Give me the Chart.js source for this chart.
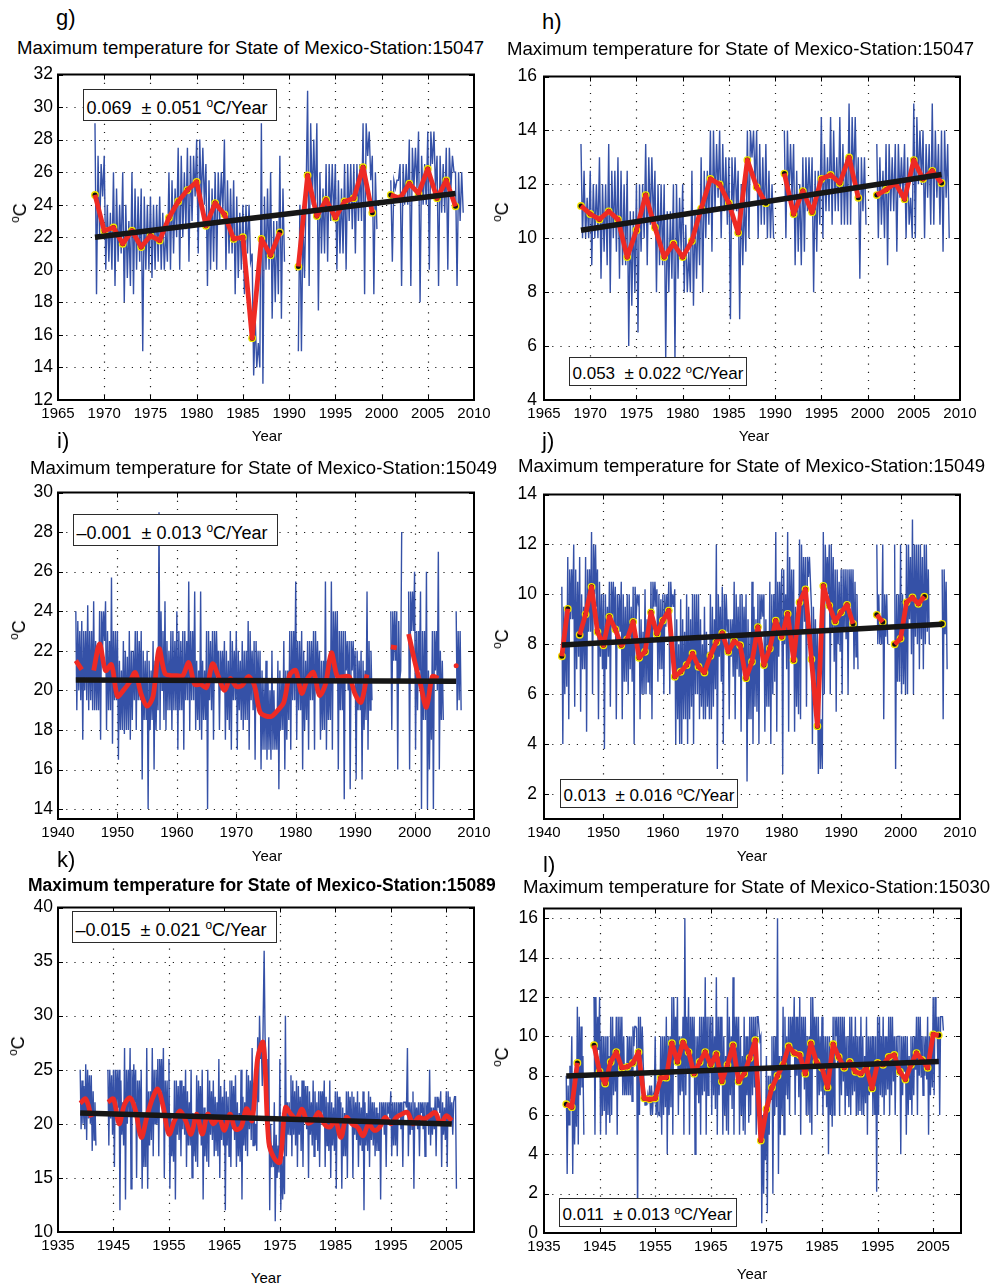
<!DOCTYPE html>
<html>
<head>
<meta charset="utf-8">
<script src="https://cdn.jsdelivr.net/npm/chart.js@4.4.1/dist/chart.umd.min.js"></script>
<style>
  html, body { margin: 0; padding: 0; background: #fff; }
  #fig { position: relative; width: 996px; height: 1285px; overflow: hidden;
         font-family: "Liberation Sans", Arial, Helvetica, sans-serif; color: #000; }
  #fig canvas { position: absolute; }
  .t { position: absolute; white-space: nowrap; line-height: 1; }
  .note { position: absolute; background: #fff; border: 1.6px solid #2b2b2b; box-sizing: border-box; }
  .note .t { position: absolute; }
  .ylab { position: absolute; white-space: nowrap; line-height: 1;
          transform: translate(-50%, -50%) rotate(-90deg); }
  sup { font-size: 66%; vertical-align: 0.55em; line-height: 0; }
</style>
</head>
<body>
<div id="fig"></div>
<script>
const N = null;

// ---------- Station 15047 (panel g): maximum temperature, 6 samples per year from 1969 ----------
const gFirstYear = 1969;
const gMonthly = [
/*1969*/ 29,18.5,27,22,26.5,24.5,
/*1970*/ 27,20,24,20.5,23.5,20,
/*1971*/ 26,19,25,20.5,24,21,
/*1972*/ 26,18,24,19.5,23,19,
/*1973*/ 26,18.5,25,20,24.5,20.5,
/*1974*/ 25,15,24.5,20,24,20,
/*1975*/ 24.5,19.5,24,20,24,20.5,
/*1976*/ 24.5,20,23.5,20,22.5,20.5,
/*1977*/ 26,20,25.5,21,25,22,
/*1978*/ 27.5,20,27,22,26,22.5,
/*1979*/ 27.5,20.5,27,23,27,24.5,
/*1980*/ 28,21,28,24,27.5,24,
/*1981*/ 26.5,19,25.5,20,25,20.5,
/*1982*/ 26,20,26,23,26,23.5,
/*1983*/ 28,20,25.5,21,25,21,
/*1984*/ 25.5,18.5,24.5,19.5,23.5,20,
/*1985*/ 24,18.5,24,21,24,20.5,
/*1986*/ 21,13.5,17,14,15.5,14,
/*1987*/ 29,13,24.5,20,25,20,
/*1988*/ 26,17,23,18,23,18.5,
/*1989*/ 27,17,25,20.5,N,N,
/*1990*/ N,N,N,N,N,N,
/*1991*/ 15,24,15,23,19.5,24.5,
/*1992*/ 31,19,29,24,28,24,
/*1993*/ 29,17.5,26,21,25,21,
/*1994*/ 26.5,20.5,26.5,23,26.5,23,
/*1995*/ 26.5,20,25.5,21,25,21,
/*1996*/ 26.5,20,26.5,23,26.5,22.5,
/*1997*/ 26.5,21,26.5,23,26.5,23,
/*1998*/ 29,18.5,29,27,28.5,25.5,
/*1999*/ 27,18.5,26,22.5,N,N,
/*2000*/ N,N,N,N,N,N,
/*2001*/ 25.5,20.5,25.5,25,25.5,25.5,
/*2002*/ 26.5,19,26.5,24,26.5,24,
/*2003*/ 28,19,27.5,25,27.5,25,
/*2004*/ 28.5,18,27,24,26.5,24,
/*2005*/ 28.5,20,28.5,26.5,28.5,25,
/*2006*/ 27,19,27,23.5,26.5,23.5,
/*2007*/ 27.5,20,27.5,25,27,26,
/*2008*/ 26,19,26,23,26,23.5
];
const gAnnual = [24.6,22.4,22.6,21.6,22.4,21.4,22.1,21.8,23.2,24.2,24.9,25.4,22.7,24.1,23.4,21.9,22.0,15.8,21.9,20.9,
                 22.3,N,20.2,25.8,23.3,24.3,23.2,24.2,24.4,26.3,23.5,N,24.6,24.4,25.3,24.7,26.2,24.4,25.5,23.9];
const gTrend = { from: 1969, to: 2008, start: 22.0, slope: 0.069, err: 0.051 };
const gXTicks = [1965,1970,1975,1980,1985,1990,1995,2000,2005,2010];
const gYTicks = [12,14,16,18,20,22,24,26,28,30,32];

// ---------- Station 15047 (panel h) ----------
const hFirstYear = 1969;
const hMonthly = [
/*1969*/ 13.5,10,12.5,10,11.5,10,
/*1970*/ 12.5,9,12,10,12,10,
/*1971*/ 13,8.5,12,9.5,12,9,
/*1972*/ 13.5,8,12.5,10,12.5,9.5,
/*1973*/ 13,8.5,12.5,9,12,9,
/*1974*/ 12.5,6,11,7.5,11,8,
/*1975*/ 12,6.5,12,9.5,12,10,
/*1976*/ 13.5,9,13,10.5,13,10.5,
/*1977*/ 12.5,8,12,9,12,9,
/*1978*/ 12,5.5,11,8,11,8.5,
/*1979*/ 12,5.5,12,8.5,11.5,9.5,
/*1980*/ 12,8,10.5,8,9.5,8,
/*1981*/ 12.5,7.5,11,8.5,11,9,
/*1982*/ 13,8,12.5,10,12.5,10.5,
/*1983*/ 14,9.5,14,11,13.5,11.5,
/*1984*/ 14,10,13.5,11,13,10.5,
/*1985*/ 13,7,13,11,13,11,
/*1986*/ 12.5,7,12,9,11.5,9.5,
/*1987*/ 14,10,14,13,14,12,
/*1988*/ 14,10,13.5,10.5,13,10.5,
/*1989*/ 13.5,10,12.5,10,12,10,
/*1990*/ N,N,N,N,N,N,
/*1991*/ 14,10,14,11.5,13.5,11.5,
/*1992*/ 13.5,9,12.5,9.5,12,9,
/*1993*/ 13,9.5,13,11,13,11,
/*1994*/ 13,8,12.5,9.5,12.5,10.5,
/*1995*/ 14.5,10,13.5,11,13,11,
/*1996*/ 14.5,10.5,14,11,13,11,
/*1997*/ 14.5,10.5,13.5,10.5,13,10.5,
/*1998*/ 15,10.5,14.5,12,14.5,11.5,
/*1999*/ 13,8.5,13,11,13,10.5,
/*2000*/ N,N,N,N,N,N,
/*2001*/ 13.5,10,13,10.5,12.5,10,
/*2002*/ 13.5,9,13.5,11,13,11,
/*2003*/ 13.5,9.5,13.5,11.5,13,11.5,
/*2004*/ 13.5,10,13,10.5,11.5,10,
/*2005*/ 15,10,14.5,12,14,12,
/*2006*/ 14,10,13.5,11.5,13.5,10.5,
/*2007*/ 15,10.5,14,11.5,13.5,10.5,
/*2008*/ 14,9.5,14,11.5,13.5,10
];
const hAnnual = [11.2,10.9,10.7,11.0,10.7,9.3,10.3,11.6,10.4,9.3,9.8,9.3,9.9,11.1,12.2,12.0,11.3,10.2,12.9,11.9,
                 11.3,N,12.4,10.9,11.75,10.96,12.2,12.35,12.05,13.0,11.5,N,11.6,11.8,12.05,11.45,12.9,12.2,12.5,12.05];
const hTrend = { from: 1969, to: 2008, start: 10.3, slope: 0.053, err: 0.022 };
const hXTicks = [1965,1970,1975,1980,1985,1990,1995,2000,2005,2010];
const hYTicks = [4,6,8,10,12,14,16];

// ---------- Station 15049 (panel i) ----------
const iFirstYear = 1943;
const iMonthly = [
/*1943*/ 24,19,23.5,20,23,19.5,
/*1944*/ 23.5,17.5,23,20,23,19.5,
/*1945*/ 24.3,19,23,19.5,23,19,
/*1946*/ 24.5,19,22.5,19,22,19,
/*1947*/ 24,17.5,24,22,24,22.5,
/*1948*/ 24.5,18,23,19,22.5,19,
/*1949*/ 25.7,17.3,23,19.5,23,19.5,
/*1950*/ 23,16.5,21.5,18,21,18,
/*1951*/ 22.5,17.8,22,18,21.7,18,
/*1952*/ 23,17.5,22,18.5,22,19.5,
/*1953*/ 23,18,23,19.5,22.5,19.5,
/*1954*/ 23,15.5,22,18.5,21.5,18.5,
/*1955*/ 22,14,21.5,18,21,18.5,
/*1956*/ 22.5,16,21.5,18,21,19,
/*1957*/ 29,18,24,20,23,18.5,
/*1958*/ 24.5,18,22.5,19,22,19,
/*1959*/ 23,18,23,19,22.5,19,
/*1960*/ 24,17,23,19,22.5,19,
/*1961*/ 23,17,23,19.5,22.5,19.5,
/*1962*/ 25.5,18,23,19.5,23,19.5,
/*1963*/ 25,18,21.5,18.5,21,18,
/*1964*/ 25,17.5,21.5,18.5,21,18.5,
/*1965*/ 23,14,23,19.5,22.5,19,
/*1966*/ 23,17.5,23,20.5,23,21,
/*1967*/ 22,18,22,20,22,20,
/*1968*/ 22.5,17.5,22,18.5,21.5,18,
/*1969*/ 23,17,22.5,19.5,22,19.5,
/*1970*/ 23,17,22,19,21.5,18.5,
/*1971*/ 22.5,18,22,18.5,22,18.5,
/*1972*/ 23.5,17,23,19.5,22,19,
/*1973*/ 22.5,16.5,22.5,19.5,22,19,
/*1974*/ 22,16,21,17,20.5,17,
/*1975*/ 21.5,16.5,20.5,17,20,16.5,
/*1976*/ 22,17,20,17,19,17,
/*1977*/ 21.5,15,21,18,20.5,18,
/*1978*/ 22.5,16,21,17.5,21,18.5,
/*1979*/ 23,17,23,19.5,23,19.5,
/*1980*/ 25.5,17.5,22.5,19,22.5,19,
/*1981*/ 23,16,22,18,21.5,18.5,
/*1982*/ 22.5,17,22.5,19.5,22.5,19.5,
/*1983*/ 23,17,23,20,22.5,20,
/*1984*/ 22,17.5,21.5,18,21.5,18,
/*1985*/ 25.5,17,21.5,18.5,21,18.5,
/*1986*/ 25.5,17,24,20.5,24,20.5,
/*1987*/ 24,16,23,19,23,19,
/*1988*/ 23,14.5,23,21,22.5,20,
/*1989*/ 22.5,15,22.5,21,22.5,20.5,
/*1990*/ 22,15.5,22,19,21.5,19,
/*1991*/ 22,15.5,21.5,18,21,18.5,
/*1992*/ 25,17,22.5,19,22,19.5,
/*1993*/ N,N,N,N,N,N,
/*1994*/ N,N,N,N,N,N,
/*1995*/ N,N,N,N,N,N,
/*1996*/ 24,18,24,21.5,24,21.5,
/*1997*/ 24,16,23.5,20.5,21,28,
/*1998*/ N,N,N,N,N,N,
/*1999*/ 25,16,25,23,25,23,
/*2000*/ 26,17,23,19,23,21,
/*2001*/ 25,14,23,18.5,23,18.5,
/*2002*/ 26,14,21,16,20.5,17.5,
/*2003*/ 23,14,23,21,23,20,
/*2004*/ 27,16,22,18.5,21.5,18.5,
/*2005*/ N,N,N,N,N,N,
/*2006*/ N,N,N,N,N,N,
/*2007*/ 24,19,23,19.5,23,19
];
const iAnnual = [21.5,21.05,N,21.0,22.35,21.0,21.3,19.7,20.0,20.4,20.9,19.8,19.2,19.7,22.1,20.85,20.75,20.75,20.75,21.4,
                 20.3,20.3,20.15,21.35,20.7,20.0,20.6,20.2,20.25,20.7,20.3,18.9,18.7,18.7,19.0,19.4,20.8,21.0,19.85,20.6,
                 20.9,19.75,20.3,21.9,20.7,20.7,20.7,19.8,19.4,20.8,N,N,N,22.2,22.15,N,22.85,21.5,20.3,19.15,
                 20.7,20.6,N,N,21.25];
const iTrend = { from: 1943, to: 2007, start: 20.53, slope: -0.001, err: 0.013 };
const iXTicks = [1940,1950,1960,1970,1980,1990,2000,2010];
const iYTicks = [14,16,18,20,22,24,26,28,30];

// ---------- Station 15049 (panel j) ----------
const jFirstYear = 1943;
const jMonthly = [
/*1943*/ 10.3,4,9.5,6,9,6.3,
/*1944*/ 11.5,5,11,9,11,9,
/*1945*/ 12,5.5,11,7,10.5,7.5,
/*1946*/ 11.5,5.3,10,7,9.5,7,
/*1947*/ 11.5,4.5,11,8.5,11,8.5,
/*1948*/ 12.5,6,12,10,12,9.5,
/*1949*/ 11,5,10.5,7.5,10,7,
/*1950*/ 10,3.8,10,7,9.5,7.5,
/*1951*/ 10.5,5.5,10.5,9,10.5,8.5,
/*1952*/ 10.3,5,10,8,10,8.5,
/*1953*/ 10.5,5,10,6.5,9.5,6.5,
/*1954*/ 10,6,10,7,9.5,6.5,
/*1955*/ 10.3,4,10.3,9,10,9.7,
/*1956*/ 10,5,9,6,8.5,6,
/*1957*/ 10.2,6,9,6.5,8.5,6,
/*1958*/ 10.5,5,10.5,9.5,10.5,9.5,
/*1959*/ 10.2,6.5,10,7,9.8,7,
/*1960*/ 10,6,10,8.7,10,9,
/*1961*/ 10.5,6,10.5,9.5,10,9.5,
/*1962*/ 10.2,4,9,5,8,4,
/*1963*/ 9.8,4,9,5,8.5,5,
/*1964*/ 10,4,9.5,5,9,5.5,
/*1965*/ 10,4,10,6,10,6,
/*1966*/ 10,5,9,5.5,8,5,
/*1967*/ 9.5,5,8.5,5.5,7.7,5,
/*1968*/ 10,5,9.5,5.5,9,6.2,
/*1969*/ 12,3,10,7.5,9.5,6.5,
/*1970*/ 10.3,4,10,8,10,8.5,
/*1971*/ 9,5,9,7.5,9,6.7,
/*1972*/ 10.5,5,10,7,9.5,6.7,
/*1973*/ 10,4.5,10,7,9.5,6.8,
/*1974*/ 10,2.5,9,5,8.3,5,
/*1975*/ 10.5,4,9.5,5.5,9,5.3,
/*1976*/ 10,4,10,9,10,9.1,
/*1977*/ 10,4.5,9,5.5,8.5,5.5,
/*1978*/ 10.5,4,10,6,10,6.5,
/*1979*/ 12.5,4.5,10.5,7.5,10.5,8.2,
/*1980*/ 11,2.8,11,8,10,7,
/*1981*/ 12.5,4.5,11.5,8,11,7.8,
/*1982*/ 11,4.5,9.5,5.5,8.5,5.2,
/*1983*/ 12.2,5,12,8.5,11.5,8.9,
/*1984*/ 11.5,5.5,11.5,10.7,11.5,10.5,
/*1985*/ 9.5,4,9.5,6.5,9,5.9,
/*1986*/ 8.5,2.8,6,3,5,3,
/*1987*/ 12.5,6,12,10,11.5,10,
/*1988*/ 12,6,12,8.5,11.5,7.3,
/*1989*/ 11,5.3,11,8,10.5,7.7,
/*1990*/ 11,6,11,8.5,11,8.2,
/*1991*/ 11,6,11,9.5,11,9,
/*1992*/ 11,7,10.5,7.5,10,7,
/*1993*/ N,N,N,N,N,N,
/*1994*/ N,N,N,N,N,N,
/*1995*/ N,N,N,N,N,N,
/*1996*/ 12,8,10,8,9.1,8,
/*1997*/ 12,5,10,8.3,10,8,
/*1998*/ N,N,N,N,N,N,
/*1999*/ 12,3,10,6.5,10,6.5,
/*2000*/ 12,6,10,6.4,9,6,
/*2001*/ 12,6,12,9,11.5,7.6,
/*2002*/ 13,6,12,8.3,12,8,
/*2003*/ 12,7,12,8.2,11.5,7,
/*2004*/ 12,8,12,8.5,11,8,
/*2005*/ N,N,N,N,N,N,
/*2006*/ N,N,N,N,N,N,
/*2007*/ 11,5,11,8.4,10.5,7
];
const jAnnual = [7.52,9.42,N,8.38,9.2,10.3,8.5,7.96,9.1,8.6,7.96,8.2,8.9,7.46,7.7,9.28,8.42,8.95,9.35,6.7,
                 6.9,7.17,7.63,7.1,6.87,7.54,8.09,8.45,7.7,8.12,7.96,6.64,7.3,8.69,7.17,7.83,8.95,8.29,9.22,7.36,
                 9.68,10.2,7.4,4.72,10.34,9.55,8.91,9.28,9.58,8.82,N,N,N,9.18,8.89,N,8.0,8.23,9.68,9.88,
                 9.62,9.91,N,N,8.82];
const jTrend = { from: 1943, to: 2007, start: 7.97, slope: 0.013, err: 0.016 };
const jXTicks = [1940,1950,1960,1970,1980,1990,2000,2010];
const jYTicks = [2,4,6,8,10,12,14];

// ---------- Station 15089 (panel k) ----------
const kFirstYear = 1939;
const kMonthly = [
/*1939*/ 25,19.5,24,20,23.5,19.5,
/*1940*/ 25.5,18.5,25,20.5,24.5,20,
/*1941*/ 24.5,17.5,23,18.5,22,18,
/*1942*/ N,N,N,N,N,N,
/*1943*/ N,N,N,N,N,N,
/*1944*/ 25,18,25,20.5,24.5,19,
/*1945*/ 25,16,25,21.5,25,21.5,
/*1946*/ 25,12,24,19,22,18,
/*1947*/ 27,13,25,20,25,21,
/*1948*/ 27,14,25,21,25.5,22,
/*1949*/ 25,15,24,20,24,19,
/*1950*/ 25,14,21,16,20.5,16,
/*1951*/ 27,14,23,18,23,18.5,
/*1952*/ 27,17,25,20,25,20,
/*1953*/ 26,17,26,23,26,21,
/*1954*/ 27,15,24,19.5,24,19.5,
/*1955*/ 26,14,21,17,20,16.5,
/*1956*/ 24,13,24,19,23.5,18.5,
/*1957*/ 24,17,24,19.5,23.5,19,
/*1958*/ 25,16,23,18,22,18,
/*1959*/ 25,15,21,17,20,16.5,
/*1960*/ 24.5,16,24,19.5,23.5,18,
/*1961*/ 25,13,21.5,17,21,16.5,
/*1962*/ 25,16,24,19,23,18.5,
/*1963*/ 24,17,22.5,17.5,22,17,
/*1964*/ 26,15,23.5,18.5,22.5,18,
/*1965*/ 24,12,23,18,22.5,17,
/*1966*/ 24,16,24,19.5,23.5,18.5,
/*1967*/ 24.5,16,22,17,21,16.5,
/*1968*/ 25,13,22.5,18,22,17.5,
/*1969*/ 25,17,24.5,19.5,24,18.5,
/*1970*/ 27,18,21.5,18,20,17.5,
/*1971*/ 28,22,30,26,27,23.5,
/*1972*/ 30,36,28,26,24,21,
/*1973*/ 28,12,20,16,18,16,
/*1974*/ 22,11,19,15,18,15.5,
/*1975*/ 26,12,17,13,17,13.5,
/*1976*/ 30,17,22,19,22,19,
/*1977*/ 24.5,17,24,19,23,18,
/*1978*/ 24,16,23.5,19,22.5,17.5,
/*1979*/ 24,16,24,21,23.5,19.5,
/*1980*/ 23.5,15,23,19,22,18,
/*1981*/ 24,17,23,18.5,22,17.5,
/*1982*/ 23,16,23,21,23,20.5,
/*1983*/ 24,16,22.5,18,22,17.5,
/*1984*/ 24,15,22,18,21.5,17.5,
/*1985*/ 23,14,23,20.5,22.5,19,
/*1986*/ 22,14,21.5,17,21,17,
/*1987*/ 23,15,23,20,22.5,20,
/*1988*/ 23,15,22.5,19,22,18.5,
/*1989*/ 23,16,22,18,21.5,17.5,
/*1990*/ 23,12,22,18,21,17.5,
/*1991*/ 23,16,22.5,18.5,22,18,
/*1992*/ 22,17,21.5,17.5,21,17.5,
/*1993*/ 22,13,22,20,22,19,
/*1994*/ 22,16,22,21,22,20.5,
/*1995*/ 23,17,22,18,22,18,
/*1996*/ 22,17,22,21,22,19.5,
/*1997*/ 22,16,22,22,22,21.5,
/*1998*/ 27,17,22,19,22,19.5,
/*1999*/ 23,14,22,20,21.5,19.5,
/*2000*/ 22,17,22,21,22,19.5,
/*2001*/ 22,17,22,20.5,22,19,
/*2002*/ 25,18,21.5,19,21.5,19.5,
/*2003*/ 22.5,17,22.5,21.5,22,21,
/*2004*/ 23,16,22,19,21.5,18.5,
/*2005*/ 23,16,23,20,22.5,20,
/*2006*/ 22,19,22,22.5,22.5,14
];
const kAnnual = [21.9,22.3,20.6,N,N,22.0,22.3,20.0,21.8,22.4,21.2,18.75,20.6,22.3,23.2,21.5,19.05,20.3,21.2,20.3,
                 19.05,20.9,19.05,20.9,20.0,20.6,19.4,20.9,19.5,19.7,21.4,20.3,26.1,27.5,18.3,16.8,16.45,21.5,20.9,20.45,
                 21.35,20.1,20.3,21.05,20.0,19.7,20.3,18.75,20.6,20.0,19.7,18.9,20.0,19.4,19.7,20.6,20.0,20.6,20.9,21.05,
                 20.0,20.6,20.45,20.75,21.05,20.0,20.75,20.3];
const kTrend = { from: 1939, to: 2006, start: 21.0, slope: -0.015, err: 0.021 };
const kXTicks = [1935,1945,1955,1965,1975,1985,1995,2005];
const kYTicks = [10,15,20,25,30,35,40];

// ---------- Station 15030 (panel l) ----------
const lFirstYear = 1939;
const lMonthly = [
/*1939*/ 8,3,7.5,5.5,8.5,6.8,
/*1940*/ 10,3,8,4.5,7.5,5.4,
/*1941*/ 11.5,4.5,11,7,10.5,7.4,
/*1942*/ 9,5,N,N,N,N,
/*1943*/ N,N,N,N,N,N,
/*1944*/ 12,5,12,8,11,9.3,
/*1945*/ 12,5,10,6,10,6.2,
/*1946*/ 10,5,10,6,9,5.6,
/*1947*/ 11,6,11,7,10,7.2,
/*1948*/ 11,5,11,9,11,8.2,
/*1949*/ 11,7,10,7,8.4,7,
/*1950*/ 10,7,10,7,10,6.7,
/*1951*/ 10.5,9.5,10.5,10.5,10.4,0.5,
/*1952*/ 11,6,11,8,10.5,8.7,
/*1953*/ 7.5,6.5,7,6.5,7,6.6,
/*1954*/ 7.5,6,7.5,6,7,6.8,
/*1955*/ 10,6,7,6,6.1,6,
/*1956*/ 10,5,10,6,10,6.4,
/*1957*/ 11,4,10,6,10,6.4,
/*1958*/ 12,5,12,9,11,8.9,
/*1959*/ 12,6,10,7,10,7.2,
/*1960*/ 11,5,16,7,11,8.2,
/*1961*/ 12,5,11,8,11,8.2,
/*1962*/ 11,4,10,7,10,6.6,
/*1963*/ 11,5,11,7,11,7.2,
/*1964*/ 13,5,11,7,11,8.2,
/*1965*/ 11,6,11,7,10,6.3,
/*1966*/ 13,5,11,7,11,7.6,
/*1967*/ 11,5,10,6,9,5.2,
/*1968*/ 12,5,11,7,10,6.3,
/*1969*/ 13,5,11,9,11,8.3,
/*1970*/ 11,5,10,6,9,5.2,
/*1971*/ 11,5,10,7,10,5.6,
/*1972*/ 11,6,11,7,11,7.4,
/*1973*/ 11,5,11,11,11,9.8,
/*1974*/ 10,0.5,6,2,6,3.7,
/*1975*/ 9,1,8,5,8,6.8,
/*1976*/ 10,2,10,6,10,6.4,
/*1977*/ 16,3,9,5,9,6,
/*1978*/ 11.5,5,11,7,10,6.8,
/*1979*/ 11,6,11,9,11,9,
/*1980*/ 12,6,11,8,11,6.9,
/*1981*/ 12,5,11,8,11,7.3,
/*1982*/ 11,6,10,6,10,5.6,
/*1983*/ 12,5,12,9,11,8.9,
/*1984*/ 11,6,11,7,10,7.2,
/*1985*/ 11,6,10,7,10,6.4,
/*1986*/ 10,4,10,6,9,5.4,
/*1987*/ 11,6,11,10,11,8.6,
/*1988*/ 11,6,11,7,11,7.7,
/*1989*/ 11,6,10,7,10,6.4,
/*1990*/ 11,6,11,7,10,7.2,
/*1991*/ 11,6,10,6,10,6.2,
/*1992*/ 11,6,10,6,9,6.6,
/*1993*/ 11,5,10,7,10,7.4,
/*1994*/ 10,6,10,6,10,2.1,
/*1995*/ 11,6,11,7,10,6.9,
/*1996*/ 11,6,10,7,10,7.3,
/*1997*/ 11,6,11,7,11,7.7,
/*1998*/ 10,6,10,8.3,10,10,
/*1999*/ 10,4,10,7,10,8.2,
/*2000*/ 10,5,10,6,9,6.8,
/*2001*/ 10,6,10,7,10,8.3,
/*2002*/ 11,6,11,8,11,7.9,
/*2003*/ 10,7,10,8,10,7.8,
/*2004*/ 11,5,10,7,10,7.4,
/*2005*/ 12,7,12,10,11,8.6,
/*2006*/ 11,6,11,11,11,10.3
];
const lAnnual = [6.55,6.4,8.65,N,N,9.55,8.2,7.6,8.7,9.2,8.4,8.45,8.65,9.2,6.85,6.8,6.85,7.9,7.9,9.65,
                 8.7,9.7,9.2,8.1,8.7,9.2,8.55,9.1,7.7,8.55,9.55,7.7,8.1,8.9,9.8,4.7,6.3,7.4,8.0,8.55,
                 9.5,9.15,9.05,8.1,9.65,8.7,8.4,7.4,9.6,8.95,8.4,8.7,8.2,8.1,8.4,7.35,8.65,8.55,8.95,9.05,
                 8.2,7.8,8.55,9.15,8.8,8.4,10.1,10.05];
const lTrend = { from: 1939, to: 2006, start: 7.98, slope: 0.011, err: 0.013 };
const lXTicks = [1935,1945,1955,1965,1975,1985,1995,2005];
const lYTicks = [0,2,4,6,8,10,12,14,16];

const stationTitle = 'Maximum temperature for State of Mexico-Station:';

// ---------- page layout (pixel boxes of each plot area and its texts) ----------
const panels = [
  { tag: 'g)', station: '15047', first: gFirstYear, monthly: gMonthly, annual: gAnnual, trend: gTrend,
    xTicks: gXTicks, yTicks: gYTicks, xMin: 1965, xMax: 2010, yMin: 12, yMax: 32, markers: true, smooth: 0,
    box: { L: 58, T: 73, R: 474, B: 400 }, tagAt: [56, 26], titleAt: [17, 55], yLabAt: [20, 213], xLabAt: [267, 441],
    note: { L: 83, T: 89, W: 194, H: 32, size: 18, base: 26 }, yPad: 5 },
  { tag: 'h)', station: '15047', first: hFirstYear, monthly: hMonthly, annual: hAnnual, trend: hTrend,
    xTicks: hXTicks, yTicks: hYTicks, xMin: 1965, xMax: 2010, yMin: 4, yMax: 16, markers: true, smooth: 0,
    box: { L: 544, T: 73, R: 960, B: 400 }, tagAt: [542, 30], titleAt: [507, 56], yLabAt: [502, 212], xLabAt: [754, 441],
    note: { L: 569, T: 357, W: 178, H: 29, size: 17, base: 23 }, yPad: 7 },
  { tag: 'i)', station: '15049', first: iFirstYear, monthly: iMonthly, annual: iAnnual, trend: iTrend,
    xTicks: iXTicks, yTicks: iYTicks, xMin: 1940, xMax: 2010, yMin: 13.5, yMax: 30, markers: false, smooth: 0.3,
    box: { L: 58, T: 491, R: 474, B: 819 }, tagAt: [57, 449], titleAt: [30, 475], yLabAt: [19, 630], xLabAt: [267, 861],
    note: { L: 73, T: 514, W: 205, H: 32, size: 18, base: 26 }, yPad: 5 },
  { tag: 'j)', station: '15049', first: jFirstYear, monthly: jMonthly, annual: jAnnual, trend: jTrend,
    xTicks: jXTicks, yTicks: jYTicks, xMin: 1940, xMax: 2010, yMin: 1, yMax: 14, markers: true, smooth: 0,
    box: { L: 544, T: 491, R: 960, B: 819 }, tagAt: [542, 449], titleAt: [518, 473], yLabAt: [502, 639], xLabAt: [752, 861],
    note: { L: 560, T: 779, W: 178, H: 29, size: 17, base: 23 }, yPad: 7 },
  { tag: 'k)', station: '15089', bold: true, first: kFirstYear, monthly: kMonthly, annual: kAnnual, trend: kTrend,
    xTicks: kXTicks, yTicks: kYTicks, xMin: 1935, xMax: 2010, yMin: 10, yMax: 40, markers: false, smooth: 0.35,
    box: { L: 58, T: 906, R: 474, B: 1232 }, tagAt: [57, 868], titleAt: [28, 892], yLabAt: [18, 1046], xLabAt: [266, 1283],
    note: { L: 72, T: 911, W: 205, H: 32, size: 18, base: 26 }, yPad: 5 },
  { tag: 'l)', station: '15030', first: lFirstYear, monthly: lMonthly, annual: lAnnual, trend: lTrend,
    xTicks: lXTicks, yTicks: lYTicks, xMin: 1935, xMax: 2010, yMin: 0, yMax: 16.5, markers: true, smooth: 0,
    box: { L: 544, T: 906, R: 961, B: 1233 }, tagAt: [543, 873], titleAt: [523, 894], yLabAt: [502, 1057], xLabAt: [752, 1279],
    note: { L: 559, T: 1198, W: 178, H: 29, size: 17, base: 23 }, yPad: 6 }
];

const fig = document.getElementById('fig');
const SANS = '"Liberation Sans", Arial, Helvetica, sans-serif';
Chart.defaults.font.family = SANS;

function fontAvailable(name) {
  const c = document.createElement('canvas').getContext('2d');
  c.font = '40px monospace';
  const a = c.measureText('1965 2010 Year').width;
  c.font = '40px "' + name + '", monospace';
  return c.measureText('1965 2010 Year').width !== a;
}
const narrow = fontAvailable('Liberation Sans Narrow');
const xTickFont = narrow
  ? { family: '"Liberation Sans Narrow", ' + SANS, size: 17.5 }
  : { family: SANS, size: 15 };
const yTickFont = { family: SANS, size: 17.5 };

// text placed by its baseline
function addText(parent, html, left, baseline, size, extra) {
  const d = document.createElement('div');
  d.className = 't';
  d.innerHTML = html;
  d.style.fontSize = size + 'px';
  d.style.left = left + 'px';
  d.style.top = (baseline - 0.8465 * size) + 'px';
  if (extra) Object.assign(d.style, extra);
  parent.appendChild(d);
  return d;
}

function fmtRate(v) {
  const s = Math.abs(v).toFixed(3);
  return v < 0 ? '\u2013' + s : s;
}

// dotted grid under the data, inward ticks and frame on top
const frame = {
  id: 'frame',
  beforeDatasetsDraw(chart) {
    const { ctx, chartArea: a, scales: { x, y } } = chart;
    ctx.save();
    ctx.strokeStyle = '#1e1e1e';
    ctx.lineWidth = 1.2;
    ctx.setLineDash([1.2, 7]);
    ctx.beginPath();
    x.ticks.forEach(t => {
      const px = Math.round(x.getPixelForValue(t.value)) + 0.5;
      if (px > a.left + 3 && px < a.right - 3) { ctx.moveTo(px, a.top); ctx.lineTo(px, a.bottom); }
    });
    y.ticks.forEach(t => {
      const py = Math.round(y.getPixelForValue(t.value)) + 0.5;
      if (py > a.top + 3 && py < a.bottom - 3) { ctx.moveTo(a.left, py); ctx.lineTo(a.right, py); }
    });
    ctx.stroke();
    ctx.restore();
  },
  afterDatasetsDraw(chart) {
    const { ctx, chartArea: a, scales: { x, y } } = chart;
    const len = 5;
    ctx.save();
    ctx.strokeStyle = '#000';
    ctx.lineWidth = 1;
    ctx.beginPath();
    x.ticks.forEach(t => {
      const px = Math.round(x.getPixelForValue(t.value)) + 0.5;
      ctx.moveTo(px, a.bottom); ctx.lineTo(px, a.bottom - len);
      ctx.moveTo(px, a.top); ctx.lineTo(px, a.top + len);
    });
    y.ticks.forEach(t => {
      const py = Math.round(y.getPixelForValue(t.value)) + 0.5;
      ctx.moveTo(a.left, py); ctx.lineTo(a.left + len, py);
      ctx.moveTo(a.right, py); ctx.lineTo(a.right - len, py);
    });
    ctx.stroke();
    ctx.lineWidth = 2;
    ctx.strokeRect(a.left, a.top, a.right - a.left, a.bottom - a.top);
    ctx.restore();
  }
};

function buildPanel(p) {
  const yW = 60, xH = 34, padT = 14, padR = 34;
  const b = p.box;
  const W = (b.R - b.L) + yW + padR;
  const H = (b.B - b.T) + padT + xH;
  const cv = document.createElement('canvas');
  cv.width = W; cv.height = H;
  cv.style.width = W + 'px'; cv.style.height = H + 'px';
  cv.style.left = (b.L - yW) + 'px';
  cv.style.top = (b.T - padT) + 'px';
  fig.appendChild(cv);

  const monthly = p.monthly.map((v, i) => ({ x: p.first + i / 6, y: v }));
  const annual = p.annual.map((v, i) => ({ x: p.first + i, y: v }));
  const tr = p.trend;
  const trend = [
    { x: tr.from, y: tr.start },
    { x: tr.to, y: tr.start + tr.slope * (tr.to - tr.from) }
  ];
  const lonely = i => p.annual[i] != null && p.annual[i - 1] == null && p.annual[i + 1] == null;

  const datasets = [
    { data: trend, borderColor: '#161616', borderWidth: 5.5, pointRadius: 0, order: 1, borderCapStyle: 'butt' },
    { data: annual, borderColor: '#ee2a24', borderWidth: 4.8, tension: p.smooth, spanGaps: false, order: 2,
      borderJoinStyle: 'round', borderCapStyle: 'butt',
      pointRadius: ctx => (!p.markers && lonely(ctx.dataIndex)) ? 2.5 : 0,
      pointBackgroundColor: '#ee2a24', pointBorderWidth: 0 },
    { data: monthly, borderColor: '#3551a7', borderWidth: 1.4, pointRadius: 0, spanGaps: false, order: 4, tension: 0 }
  ];
  if (p.markers) {
    datasets.push({ data: annual, showLine: false, order: 3, pointRadius: 3.2,
      pointBackgroundColor: '#111', pointBorderColor: '#f2e400', pointBorderWidth: 1.4 });
  }

  new Chart(cv, {
    type: 'line',
    data: { datasets },
    options: {
      responsive: false, animation: false, devicePixelRatio: 1, events: [],
      layout: { padding: { top: padT, right: padR, left: 0, bottom: 0 } },
      plugins: { legend: { display: false }, tooltip: { enabled: false } },
      scales: {
        x: {
          type: 'linear', min: p.xMin, max: p.xMax,
          afterBuildTicks: s => { s.ticks = p.xTicks.map(v => ({ value: v })); },
          afterFit: s => { s.height = xH; },
          grid: { display: false, drawTicks: false, tickLength: 0 },
          border: { display: false },
          ticks: { autoSkip: false, maxRotation: 0, padding: 5, color: '#000', font: xTickFont,
                   callback: v => String(v) }
        },
        y: {
          type: 'linear', min: p.yMin, max: p.yMax,
          afterBuildTicks: s => { s.ticks = p.yTicks.map(v => ({ value: v })); },
          afterFit: s => { s.width = yW; },
          grid: { display: false, drawTicks: false, tickLength: 0 },
          border: { display: false },
          ticks: { padding: p.yPad, color: '#000', font: yTickFont, callback: v => String(v) }
        }
      }
    },
    plugins: [frame]
  });

  // panel tag, title, axis labels
  addText(fig, p.tag, p.tagAt[0], p.tagAt[1], 22);
  addText(fig, stationTitle + p.station, p.titleAt[0], p.titleAt[1], p.bold ? 17.5 : 18.6,
          p.bold ? { fontWeight: 'bold' } : null);
  const yl = document.createElement('div');
  yl.className = 'ylab';
  yl.innerHTML = '<sup>o</sup>C';
  yl.style.fontSize = '18px';
  yl.style.left = p.yLabAt[0] + 'px';
  yl.style.top = p.yLabAt[1] + 'px';
  fig.appendChild(yl);
  addText(fig, 'Year', p.xLabAt[0], p.xLabAt[1], 15, { transform: 'translateX(-50%)' });

  // trend annotation box
  const n = p.note;
  const box = document.createElement('div');
  box.className = 'note';
  box.style.left = n.L + 'px'; box.style.top = n.T + 'px';
  box.style.width = n.W + 'px'; box.style.height = n.H + 'px';
  fig.appendChild(box);
  addText(box, fmtRate(tr.slope) + '&nbsp;&nbsp;\u00b1 ' + tr.err.toFixed(3) + ' <sup>o</sup>C/Year',
          2.5, n.base - 1.5, n.size);
}

panels.forEach(buildPanel);
</script>
</body>
</html>
